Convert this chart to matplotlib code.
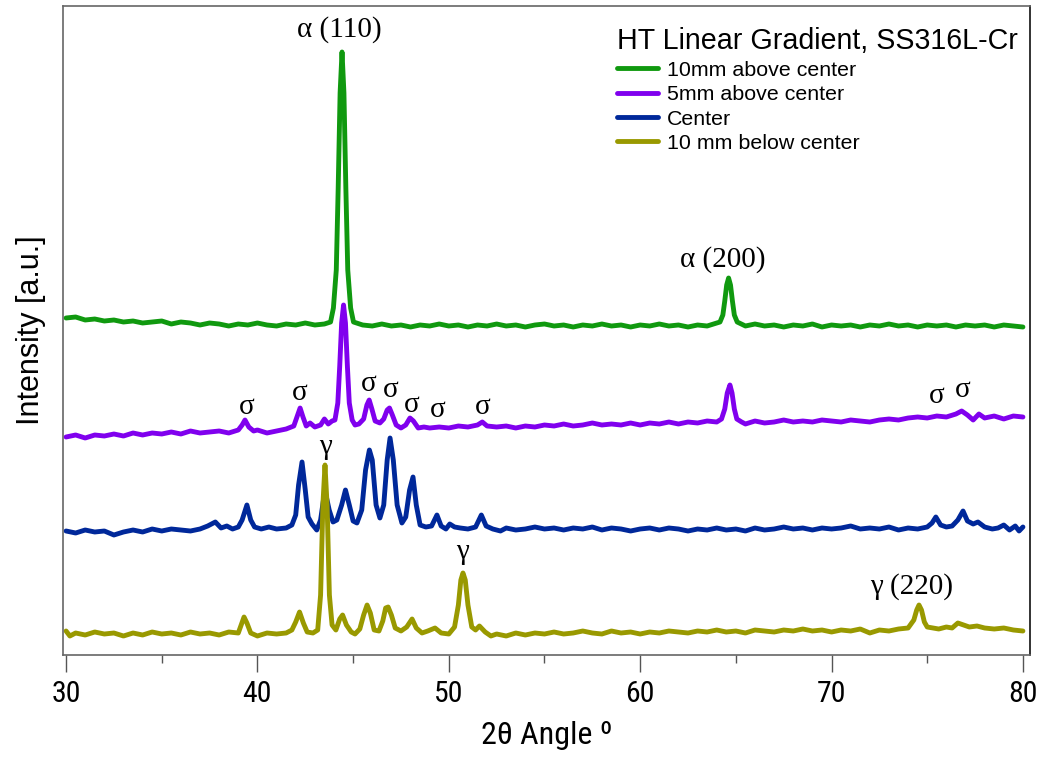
import matplotlib
matplotlib.use("Agg")
import matplotlib.pyplot as plt
from matplotlib import font_manager
import numpy as np

# ---------------- data ----------------
x_green = [30.0, 30.5, 31.0, 31.5, 32.0, 32.5, 33.0, 33.5, 34.0, 34.5, 35.0, 35.5, 36.0, 36.5, 37.0, 37.5,
           38.0, 38.5, 39.0, 39.5, 40.0, 40.5, 41.0, 41.5, 42.0, 42.5, 43.0, 43.5,
           43.82, 43.97, 44.12, 44.22, 44.32, 44.42, 44.52, 44.62, 44.72, 44.87, 45.02,
           45.5, 46.0, 46.5, 47.0, 47.5, 48.0, 48.5, 49.0, 49.5, 50.0, 50.5, 51.0, 51.5, 52.0, 52.5,
           53.0, 53.5, 54.0, 54.5, 55.0, 55.5, 56.0, 56.5, 57.0, 57.5, 58.0, 58.5, 59.0, 59.5, 60.0,
           60.5, 61.0, 61.5, 62.0, 62.5, 63.0, 63.5,
           64.17, 64.32, 64.42, 64.52, 64.62, 64.72, 64.82, 64.92, 65.07,
           65.5, 66.0, 66.5, 67.0, 67.5, 68.0, 68.5, 69.0, 69.5, 70.0, 70.5, 71.0, 71.5, 72.0, 72.5,
           73.0, 73.5, 74.0, 74.5, 75.0, 75.5, 76.0, 76.5, 77.0, 77.5, 78.0, 78.5, 79.0, 79.5, 80.0]
y_green = [337, 338, 335, 336, 334, 335, 333, 334, 332, 333, 334, 331, 333, 332, 330, 332,
           331, 329, 331, 330, 332, 330, 329, 331, 330, 332, 330, 331,
           333, 347, 385, 467, 562, 603, 562, 467, 385, 347, 333,
           330, 329, 331, 329, 330, 328, 330, 329, 331, 329, 330, 328, 330, 329, 331,
           329, 330, 328, 330, 331, 329, 330, 328, 330, 329, 331, 329, 330, 328, 330,
           329, 331, 329, 330, 328, 330, 329,
           333, 340, 354, 370, 377, 370, 354, 340, 333,
           329, 331, 329, 330, 328, 330, 329, 331, 328, 330, 329, 330, 328, 330, 329,
           331, 329, 330, 328, 330, 329, 330, 328, 330, 329, 330, 328, 330, 329, 328]

x_purple = [30.0, 30.5, 31.0, 31.5, 32.0, 32.5, 33.0, 33.5, 34.0, 34.5, 35.0, 35.5, 36.0, 36.5, 37.0, 37.5,
            38.0, 38.5, 39.0, 39.2, 39.35, 39.55, 39.8, 40.0, 40.5, 41.0, 41.5, 41.9, 42.1, 42.23, 42.38,
            42.55, 42.75, 43.0, 43.3, 43.5, 43.7, 43.9,
            44.05, 44.2, 44.3, 44.4, 44.5, 44.6, 44.7, 44.8, 44.95,
            45.1, 45.3, 45.55, 45.72, 45.84, 45.98, 46.15, 46.4, 46.6, 46.78, 46.9, 47.05, 47.25, 47.5,
            47.75, 47.97, 48.15, 48.4, 48.7, 49.0, 49.5, 50.0, 50.5, 51.0, 51.5, 51.75, 52.0, 52.5,
            53.0, 53.5, 54.0, 54.5, 55.0, 55.5, 56.0, 56.5, 57.0, 57.5, 58.0, 58.5, 59.0, 59.5, 60.0,
            60.5, 61.0, 61.5, 62.0, 62.5, 63.0, 63.5, 64.0,
            64.25, 64.42, 64.55, 64.69, 64.8, 64.92, 65.05, 65.3, 65.5, 66.0, 66.5, 67.0, 67.5, 68.0,
            68.5, 69.0, 69.5, 70.0, 70.5, 71.0, 71.5, 72.0, 72.5, 73.0, 73.5, 74.0, 74.5, 75.0, 75.5,
            76.0, 76.5, 76.8, 77.1, 77.4, 77.7, 78.0, 78.5, 79.0, 79.5, 80.0]
y_purple = [218, 220, 217, 220, 219, 221, 219, 222, 220, 222, 221, 223, 221, 224, 222, 223,
            224, 222, 225, 230, 235, 228, 224, 225, 222, 224, 226, 229, 240, 247, 238,
            229, 232, 228, 230, 236, 231, 234,
            235, 252, 289, 332, 350, 332, 289, 252, 235,
            230, 231, 236, 250, 255, 246, 234, 232, 236, 245, 247, 240, 230, 227,
            230, 237, 234, 227, 228, 227, 228, 227, 229, 228, 230, 233, 229, 228,
            229, 227, 229, 228, 230, 229, 231, 229, 230, 232, 230, 231, 230, 232, 230,
            232, 231, 233, 231, 233, 232, 234, 233,
            236, 246, 262, 270, 262, 246, 236, 233, 231, 234, 232, 233, 235, 233,
            234, 233, 235, 234, 233, 235, 234, 233, 235, 236, 235, 237, 238, 237, 239,
            238, 241, 244, 240, 235, 241, 237, 239, 236, 239, 238]

x_blue = [30.0, 30.5, 31.0, 31.5, 32.0, 32.5, 33.0, 33.5, 34.0, 34.5, 35.0, 35.5, 36.0, 36.5, 37.0,
          37.4, 37.8, 38.1, 38.4, 38.7, 39.0, 39.2, 39.45, 39.65, 39.85, 40.2, 40.6, 41.0, 41.5, 41.8,
          42.0, 42.15, 42.33, 42.5, 42.65, 42.85, 43.1, 43.3, 43.45, 43.58, 43.75, 43.95, 44.15, 44.4,
          44.6, 44.8, 45.0, 45.2, 45.45, 45.65, 45.85, 46.0, 46.2, 46.4, 46.6, 46.78, 46.93, 47.1, 47.3,
          47.55, 47.75, 47.95, 48.13, 48.3, 48.5, 48.8, 49.1, 49.38, 49.6, 49.85, 50.05, 50.3, 50.6,
          51.0, 51.4, 51.7, 51.95, 52.3, 52.7, 53.0, 53.5, 54.0, 54.5, 55.0, 55.5, 56.0, 56.5, 57.0,
          57.5, 58.0, 58.5, 59.0, 59.5, 60.0, 60.5, 61.0, 61.5, 62.0, 62.5, 63.0, 63.5, 64.0, 64.5,
          65.0, 65.5, 66.0, 66.5, 67.0, 67.5, 68.0, 68.5, 69.0, 69.5, 70.0, 70.5, 71.0, 71.5, 72.0,
          72.5, 73.0, 73.5, 74.0, 74.5, 75.0, 75.25, 75.45, 75.7, 76.0, 76.3, 76.6, 76.87, 77.1, 77.4,
          77.65, 78.0, 78.4, 78.7, 79.0, 79.3, 79.6, 79.8, 80.0]
y_blue = [124, 122, 125, 123, 124, 120, 123, 125, 123, 126, 124, 126, 125, 124, 126,
          129, 133, 127, 129, 126, 128, 135, 150, 135, 128, 126, 128, 126, 127, 130,
          140, 170, 193, 165, 138, 131, 125, 135, 155, 160, 145, 133, 135, 150,
          165, 150, 134, 132, 145, 185, 205, 195, 150, 137, 150, 195, 217, 195, 150,
          132, 138, 165, 178, 150, 130, 128, 129, 140, 129, 126, 131, 128, 127,
          126, 128, 140, 129, 126, 124, 127, 125, 126, 128, 126, 127, 125, 127, 126,
          128, 125, 127, 126, 124, 126, 127, 125, 127, 126, 124, 126, 125, 127, 125,
          126, 124, 127, 125, 126, 128, 126, 127, 125, 127, 126, 127, 129, 126, 127,
          126, 128, 125, 127, 126, 128, 132, 138, 130, 128, 129, 135, 144, 134, 131,
          133, 128, 126, 127, 130, 125, 129, 124, 128]

x_olive = [30.0, 30.2, 30.5, 31.0, 31.5, 32.0, 32.5, 33.0, 33.5, 34.0, 34.5, 35.0, 35.5, 36.0, 36.5,
           37.0, 37.5, 38.0, 38.5, 39.0, 39.15, 39.3, 39.45, 39.65, 40.0, 40.5, 41.0, 41.5, 41.8, 42.0,
           42.2, 42.4, 42.6, 42.9, 43.15, 43.3, 43.42, 43.53, 43.64, 43.76, 43.9, 44.1, 44.3, 44.45,
           44.65, 44.9, 45.1, 45.35, 45.55, 45.73, 45.9, 46.1, 46.35, 46.55, 46.7, 46.83, 47.0, 47.2,
           47.5, 47.8, 48.08, 48.3, 48.6, 48.9, 49.28, 49.6, 50.0, 50.3, 50.5, 50.63, 50.74, 50.86,
           51.0, 51.2, 51.4, 51.6, 51.9, 52.2, 52.5, 53.0, 53.5, 54.0, 54.5, 55.0, 55.5, 56.0, 56.5,
           57.0, 57.5, 58.0, 58.5, 59.0, 59.5, 60.0, 60.5, 61.0, 61.5, 62.0, 62.5, 63.0, 63.5, 64.0,
           64.5, 65.0, 65.5, 66.0, 66.5, 67.0, 67.5, 68.0, 68.5, 69.0, 69.5, 70.0, 70.5, 71.0, 71.5,
           72.0, 72.5, 73.0, 73.5, 74.0, 74.3, 74.45, 74.57, 74.7, 74.85, 75.0, 75.3, 75.6, 76.0, 76.3,
           76.6, 76.9, 77.2, 77.6, 78.0, 78.5, 79.0, 79.5, 80.0]
y_olive = [24, 19, 22, 20, 23, 21, 22, 19, 22, 20, 23, 21, 22, 20, 23,
           21, 22, 20, 23, 22, 30, 38, 32, 22, 19, 22, 21, 22, 25, 33,
           43, 32, 23, 22, 25, 60, 150, 190, 150, 60, 30, 25, 36, 40,
           30, 23, 21, 26, 40, 50, 42, 25, 24, 34, 47, 48, 40, 27,
           24, 28, 36, 27, 22, 24, 27, 22, 21, 28, 50, 75, 82, 75,
           50, 28, 25, 29, 23, 19, 21, 19, 22, 20, 22, 21, 23, 21, 22,
           24, 22, 21, 24, 22, 23, 21, 23, 22, 24, 23, 22, 24, 23, 25,
           23, 24, 22, 25, 24, 23, 25, 24, 26, 24, 25, 23, 25, 24, 26,
           22, 25, 24, 26, 27, 35, 45, 50, 45, 33, 28, 27, 26, 28, 27,
           32, 30, 28, 29, 27, 26, 27, 25, 24]

series_labels = ["10mm above center", "5mm above center", "Center", "10 mm below center"]
series_colors = ["#10990f", "#8000ee", "#00289a", "#999900"]
legend_title = "HT Linear Gradient, SS316L-Cr"

peak_labels = ["\u03b1 (110)", "\u03b1 (200)", "\u03b3 (220)", "\u03b3", "\u03b3",
               "\u03c3", "\u03c3", "\u03c3", "\u03c3", "\u03c3", "\u03c3", "\u03c3", "\u03c3", "\u03c3"]
peak_label_x = [44.3, 64.3, 74.2, 43.55, 50.7, 39.45, 42.2, 45.8, 46.95, 48.05, 49.4, 51.75, 75.5, 76.85]
peak_label_y = [625, 395, 68, 208, 103, 248, 262, 271, 265, 250, 245, 248, 259, 265]

xticks = [30, 40, 50, 60, 70, 80]

# ---------------- fonts ----------------
fm = font_manager.fontManager
names = {f.name for f in fm.ttflist}
narrow_kw = None
for cand in ["Liberation Sans Narrow", "Roboto Condensed", "Open Sans Condensed", "Noto Sans Condensed"]:
    if cand in names:
        narrow_kw = {"family": cand}
        break
if narrow_kw is None:
    if any("Condensed" in f.fname for f in fm.ttflist if f.name == "DejaVu Sans"):
        narrow_kw = {"family": "DejaVu Sans", "stretch": "condensed"}
    else:
        narrow_kw = {"family": "Liberation Sans"}
sans = "Liberation Sans"
serif = "Liberation Serif"

fig = plt.figure(figsize=(10.43, 7.59), dpi=100)
ax = fig.add_axes([63 / 1043, 1 - 655 / 759, (1030 - 63) / 1043, (655 - 6) / 759])

xs = [x_green, x_purple, x_blue, x_olive]
ys = [y_green, y_purple, y_blue, y_olive]
for xv, yv, lab, col in zip(xs, ys, series_labels, series_colors):
    ax.plot(xv, yv, color=col, lw=3.5, label=lab, solid_joinstyle="round", solid_capstyle="round")

ax.set_xlim(29.84, 80.37)
ax.set_ylim(0, 649)
ax.set_yticks([])
ax.set_xticks(xticks)
ax.set_xticks([35, 45, 55, 65, 75], minor=True)
ax.tick_params(axis="x", which="major", length=12, width=1.0, color="#555555", pad=6)
ax.tick_params(axis="x", which="minor", length=6, width=1.0, color="#555555")
for lbl in ax.get_xticklabels():
    lbl.set_fontfamily(narrow_kw["family"])
    if "stretch" in narrow_kw:
        lbl.set_fontstretch(narrow_kw["stretch"])
    lbl.set_fontsize(21.5)
for side in ["left", "bottom", "top"]:
    ax.spines[side].set_color("#666666")
    ax.spines[side].set_linewidth(1.2)
ax.spines["right"].set_color("#111111")
ax.spines["right"].set_linewidth(1.2)

xl = ax.set_xlabel("2\u03b8 Angle \u00ba", fontfamily=narrow_kw["family"], fontsize=23, labelpad=9)
if "stretch" in narrow_kw:
    xl.set_fontstretch(narrow_kw["stretch"])
ax.set_ylabel("Intensity [a.u.]", fontfamily=sans, fontsize=22, labelpad=12)

for t, xp, yp in zip(peak_labels, peak_label_x, peak_label_y):
    ax.text(xp, yp, t, fontfamily=serif, fontsize=21, ha="center", va="center")

leg = ax.legend(title=legend_title, loc="upper right", bbox_to_anchor=(1.003, 0.99), frameon=False,
                prop={"family": sans, "size": 15.4}, title_fontproperties={"family": sans, "size": 20.6},
                handlelength=1.9, handletextpad=0.45, labelspacing=0.25, borderaxespad=0.3)
leg._legend_box.align = "left"
for h in leg.get_lines():
    h.set_linewidth(3.5)

fig.savefig("out.png", dpi=100)
